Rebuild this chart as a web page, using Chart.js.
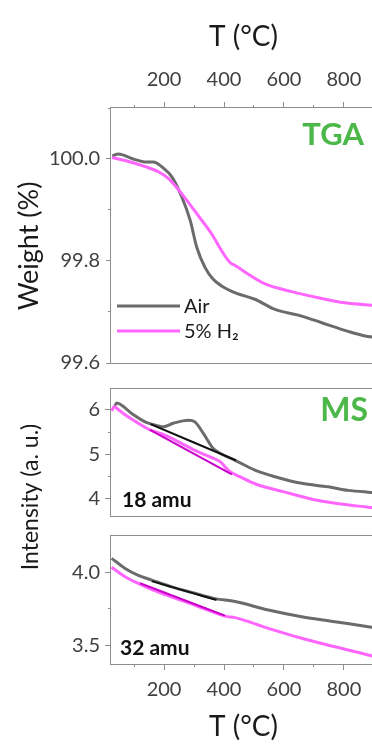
<!DOCTYPE html>
<html>
<head>
<meta charset="utf-8">
<script src="https://cdn.jsdelivr.net/npm/chart.js@4.4.1/dist/chart.umd.min.js"></script>
<style>
  html, body { margin: 0; padding: 0; background: #fff; }
  #wrap { position: relative; width: 372px; height: 744px; overflow: hidden; }
  #wrap canvas { position: absolute; left: 0; top: 0; }
</style>
</head>
<body>
<div id="wrap">
  <canvas id="tga" width="380" height="744"></canvas>
  <canvas id="ms18" width="380" height="744"></canvas>
  <canvas id="ms32" width="380" height="744"></canvas>
</div>
<script>
// temperature axis
const tempRange = [23, 907];
const tempTicks = [200, 400, 600, 800];
const tempMinor = [100, 300, 500, 700];

// TGA weight loss
const tgaRange = [99.6, 100.1];
const tgaTicks = [99.6, 99.8, 100.0];
const tgaMinor = [99.7, 99.9, 100.1];
const tgaAirT = [27, 48, 92, 142, 164, 198, 226, 259, 287, 309, 337, 364, 392, 440, 503, 570, 659, 726, 814, 870, 905];
const tgaAir  = [100.006, 100.010, 100.001, 99.994, 99.994, 99.982, 99.965, 99.926, 99.880, 99.827, 99.787, 99.764, 99.751, 99.737, 99.725, 99.705, 99.692, 99.679, 99.662, 99.653, 99.650];
const tgaH2T  = [26, 70, 137, 181, 214, 242, 276, 314, 359, 392, 420, 440, 481, 537, 626, 714, 803, 905];
const tgaH2   = [100.003, 99.997, 99.985, 99.975, 99.962, 99.944, 99.919, 99.889, 99.853, 99.820, 99.797, 99.790, 99.774, 99.755, 99.740, 99.728, 99.718, 99.713];

// MS 18 amu
const ms18Range = [3.6, 6.475];
const ms18Ticks = [4, 5, 6];
const ms18Minor = [4.5, 5.5];
const ms18AirT = [35, 42, 92, 137, 159, 198, 231, 281, 303, 331, 364, 387, 437, 503, 570, 659, 748, 814, 881, 905];
const ms18Air  = [6.08, 6.16, 5.92, 5.73, 5.68, 5.62, 5.70, 5.77, 5.73, 5.47, 5.13, 5.02, 4.86, 4.64, 4.49, 4.34, 4.26, 4.18, 4.14, 4.13];
const ms18H2T  = [26, 33, 40, 70, 114, 153, 203, 259, 314, 370, 387, 414, 426, 453, 503, 603, 714, 803, 881, 905];
const ms18H2   = [5.98, 6.08, 6.05, 5.89, 5.70, 5.55, 5.43, 5.24, 5.05, 4.89, 4.83, 4.64, 4.58, 4.49, 4.33, 4.14, 3.95, 3.86, 3.80, 3.78];
const ms18AirBaseT = [155, 440];
const ms18AirBase  = [5.68, 4.86];
const ms18H2BaseT  = [153, 426];
const ms18H2Base   = [5.55, 4.54];

// MS 32 amu
const ms32Range = [3.372, 4.249];
const ms32Ticks = [3.5, 4.0];
const ms32Minor = [3.75];
const ms32AirT = [25, 70, 114, 159, 226, 292, 370, 437, 548, 659, 770, 881, 905];
const ms32Air  = [4.096, 4.027, 3.98, 3.947, 3.90, 3.863, 3.82, 3.80, 3.742, 3.696, 3.662, 3.627, 3.62];
const ms32H2T  = [25, 70, 126, 192, 270, 337, 403, 437, 548, 659, 770, 881, 905];
const ms32H2   = [4.035, 3.97, 3.913, 3.856, 3.80, 3.749, 3.70, 3.69, 3.616, 3.548, 3.49, 3.434, 3.42];
const ms32AirBaseT = [159, 375];
const ms32AirBase  = [3.94, 3.81];
const ms32H2BaseT  = [120, 403];
const ms32H2Base   = [3.925, 3.703];

const FONT = 'Lato, "Open Sans", sans-serif';
const GRAY = '#6b6b6b', PINK = '#ff66ff', DARKPINK = '#c800c8', GREEN = '#4cb84a';
const FRAME = '#8e8e8e', TICKTXT = '#404040', TITLE = '#1a1a1a';

function pts(xs, ys) {
  return xs.map((x, i) => ({ x: x, y: ys[i] }));
}

function line(label, xs, ys, color, width, order) {
  return {
    label: label, data: pts(xs, ys), borderColor: color, borderWidth: width,
    pointRadius: 0, fill: false, cubicInterpolationMode: 'monotone', order: order
  };
}

function fixTicks(list) {
  return scale => { scale.ticks = list.map(v => ({ value: v })); };
}

function setSize(size) {
  return s => { if (s.isHorizontal()) s.height = size; else s.width = size; };
}

function majorAxis(pos, range, ticks, digits, size, tickLen, pad, title) {
  return {
    type: 'linear', position: pos, min: range[0], max: range[1], weight: 1,
    afterBuildTicks: fixTicks(ticks),
    afterFit: setSize(size),
    border: { display: false },
    grid: { drawOnChartArea: false, tickLength: tickLen, tickColor: FRAME },
    ticks: {
      color: TICKTXT, font: { family: FONT, size: 20 }, padding: pad,
      autoSkip: false, maxRotation: 0, callback: v => v.toFixed(digits)
    },
    title: title || { display: false }
  };
}

function minorAxis(pos, range, ticks) {
  return {
    type: 'linear', position: pos, min: range[0], max: range[1], weight: 0,
    afterBuildTicks: fixTicks(ticks),
    afterFit: setSize(0),
    border: { display: false },
    grid: { drawOnChartArea: false, tickLength: 3, tickColor: FRAME },
    ticks: { display: false }
  };
}

const tempTitle = pad => ({
  display: true, text: 'T (°C)', color: TITLE,
  font: { family: FONT, size: 28 }, padding: pad
});

// box round the plot area
const frame = {
  id: 'frame',
  beforeDatasetsDraw(chart) {
    const a = chart.chartArea, ctx = chart.ctx;
    ctx.save();
    ctx.strokeStyle = FRAME;
    ctx.lineWidth = 1;
    ctx.strokeRect(Math.round(a.left) - 0.5, Math.round(a.top) - 0.5,
                   Math.round(a.right - a.left) + 1, Math.round(a.bottom - a.top) + 1);
    ctx.restore();
  }
};

// free text: panel names, side titles
const notes = {
  id: 'notes',
  afterDraw(chart, args, opts) {
    const ctx = chart.ctx;
    (opts.items || []).forEach(n => {
      ctx.save();
      ctx.translate(n.x, n.y);
      if (n.rotate) ctx.rotate(n.rotate * Math.PI / 180);
      ctx.font = n.font;
      ctx.fillStyle = n.color;
      ctx.textAlign = n.align || 'left';
      ctx.textBaseline = n.baseline || 'alphabetic';
      ctx.fillText(n.text, 0, 0);
      ctx.restore();
    });
  }
};

// legend with line samples, drawn inside the plot
const lineKey = {
  id: 'lineKey',
  afterDraw(chart, args, o) {
    if (!o.show) return;
    const ctx = chart.ctx;
    let row = 0;
    chart.data.datasets.forEach(ds => {
      if (!ds.label) return;
      const y = o.y + row * o.gap;
      ctx.save();
      ctx.strokeStyle = ds.borderColor;
      ctx.lineWidth = ds.borderWidth;
      ctx.beginPath();
      ctx.moveTo(o.x, y);
      ctx.lineTo(o.x + o.len, y);
      ctx.stroke();
      ctx.fillStyle = TITLE;
      ctx.font = '20px ' + FONT;
      ctx.textBaseline = 'middle';
      ctx.fillText(ds.label, o.x + o.len + 4, y + 1);
      ctx.restore();
      row++;
    });
  }
};

function panel(id, datasets, scales, padding, items, key) {
  return new Chart(document.getElementById(id), {
    type: 'line',
    data: { datasets: datasets },
    options: {
      responsive: false, animation: false, parsing: false,
      layout: { padding: padding },
      scales: scales,
      plugins: {
        legend: { display: false }, tooltip: { enabled: false },
        notes: { items: items },
        lineKey: key || { show: false }
      }
    },
    plugins: [frame, notes, lineKey]
  });
}

const bold = s => 'bold ' + s + 'px ' + FONT;
const plain = s => s + 'px ' + FONT;

panel('tga', [
    line('Air', tgaAirT, tgaAir, GRAY, 3, 2),
    line('5% H₂', tgaH2T, tgaH2, PINK, 3, 1)
  ], {
    x: majorAxis('top', tempRange, tempTicks, 0, 108, 6, 10, tempTitle({ top: 20, bottom: 0 })),
    xm: minorAxis('top', tempRange, tempMinor),
    y: majorAxis('left', tgaRange, tgaTicks, 1, 111, 5, 6),
    ym: minorAxis('left', tgaRange, tgaMinor)
  },
  { top: 0, left: 0, right: 4, bottom: 381 },
  [
    { text: 'TGA', x: 364, y: 145, font: bold(31), color: GREEN, align: 'right' },
    { text: 'Weight (%)', x: 38, y: 246, font: plain(27), color: TITLE, align: 'center', rotate: -90 }
  ],
  { show: true, x: 117, y: 306, gap: 25, len: 63 }
);

panel('ms18', [
    line('', ms18AirBaseT, ms18AirBase, '#111111', 2, 0),
    line('', ms18H2BaseT, ms18H2Base, DARKPINK, 2, 0),
    line('', ms18AirT, ms18Air, GRAY, 3, 2),
    line('', ms18H2T, ms18H2, PINK, 3, 1)
  ], {
    x: { type: 'linear', min: tempRange[0], max: tempRange[1], display: false },
    y: majorAxis('left', ms18Range, ms18Ticks, 0, 111, 6, 5),
    ym: minorAxis('left', ms18Range, ms18Minor)
  },
  { top: 389, left: 0, right: 4, bottom: 228 },
  [
    { text: 'MS', x: 368, y: 421, font: bold(32), color: GREEN, align: 'right' },
    { text: '18 amu', x: 122, y: 507, font: bold(21), color: '#111111' },
    { text: 'Intensity (a. u.)', x: 38, y: 497, font: plain(23), color: TITLE, align: 'center', rotate: -90 }
  ]
);

panel('ms32', [
    line('', ms32AirBaseT, ms32AirBase, '#111111', 2, 0),
    line('', ms32H2BaseT, ms32H2Base, DARKPINK, 2, 0),
    line('', ms32AirT, ms32Air, GRAY, 3, 2),
    line('', ms32H2T, ms32H2, PINK, 3, 1)
  ], {
    x: majorAxis('bottom', tempRange, tempTicks, 0, 80, 6, 8, tempTitle({ top: 0, bottom: 0 })),
    xm: minorAxis('bottom', tempRange, tempMinor),
    y: majorAxis('left', ms32Range, ms32Ticks, 1, 111, 6, 5),
    ym: minorAxis('left', ms32Range, ms32Minor)
  },
  { top: 536, left: 0, right: 4, bottom: 0 },
  [
    { text: '32 amu', x: 120, y: 655, font: bold(21), color: '#111111' }
  ]
);
</script>
</body>
</html>
